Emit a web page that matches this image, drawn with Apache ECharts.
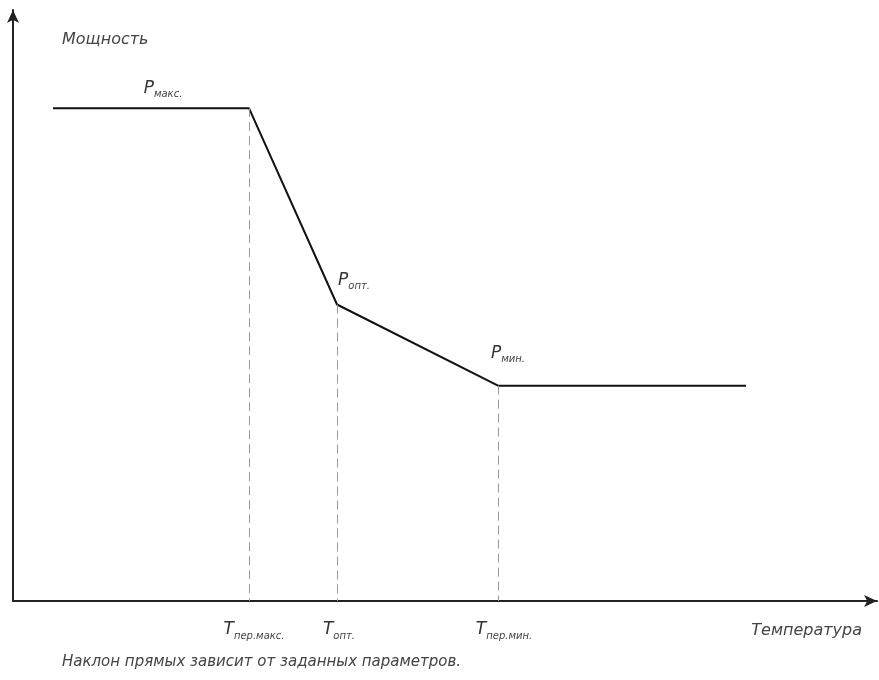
<!DOCTYPE html>
<html><head><meta charset="utf-8">
<script src="https://cdn.jsdelivr.net/npm/echarts@6/dist/echarts.min.js"></script>
<style>html,body{margin:0;padding:0;background:#fff}#c{width:879px;height:680px}</style>
</head><body><div id="c"></div>
<script>
// Temperature (arbitrary units) and power (arbitrary units)
const temps = [40, 236, 324, 485, 733];
const power = [492, 492, 296, 215, 215];
const pointLabels = ['', 'макс.', 'опт.', 'мин.', ''];
const tempMarks = [236, 324, 485];
const tempMarkLabels = ['пер.макс.', 'опт.', 'пер.мин.'];
const tempMarkPower = [492, 296, 215];
const xName = 'Температура';
const yName = 'Мощность';
const note = 'Наклон прямых зависит от заданных параметров.';

const FONT = '"DejaVu Sans", sans-serif';
const labelOffsets = [null, [-86, -4], [17, -8], [10, -16], null];
const markLabelOffsets = [[5, 0], [2, 0], [6, 0]];

const chart = echarts.init(document.getElementById('c'));
const lineData = temps.map((t, i) => {
  const d = { value: [t, power[i]] };
  if (pointLabels[i]) {
    d.label = {
      show: true, position: 'top', offset: labelOffsets[i],
      formatter: '{a|P}{b|' + pointLabels[i] + '}'
    };
  }
  return d;
});
const rich = {
  a: { fontSize: 17, fontStyle: 'italic', fontFamily: FONT, color: '#333' },
  b: { fontSize: 10, fontStyle: 'italic', fontFamily: FONT, color: '#444', padding: [12, 0, 0, 0] }
};
chart.setOption({
  animation: false,
  grid: { left: 13, right: 2, top: 10, bottom: 79 },
  xAxis: {
    type: 'value', min: 0, max: 864,
    axisLine: { show: true, lineStyle: { color: '#222', width: 2 }, symbol: ['none', 'arrow'], symbolSize: [9, 13] },
    axisTick: { show: false }, axisLabel: { show: false }, splitLine: { show: false }
  },
  yAxis: {
    type: 'value', min: 0, max: 590,
    axisLine: { show: true, lineStyle: { color: '#222', width: 2 }, symbol: ['none', 'arrow'], symbolSize: [9, 13] },
    axisTick: { show: false }, axisLabel: { show: false }, splitLine: { show: false }
  },
  series: [{
    type: 'line',
    data: lineData,
    showSymbol: true,
    symbol: 'circle',
    symbolSize: 0,
    lineStyle: { color: '#111', width: 2 },
    itemStyle: { color: '#111' },
    label: { rich: rich },
    markLine: {
      silent: true, symbol: ['none', 'none'],
      lineStyle: { color: '#999', type: [9, 5], width: 1 },
      label: { show: true, position: 'end', distance: 18, rich: rich },
      data: tempMarks.map((t, i) => [
        { coord: [t, tempMarkPower[i]] },
        { coord: [t, 0], label: { offset: markLabelOffsets[i], formatter: '{a|T}{b|' + tempMarkLabels[i] + '}' } }
      ])
    }
  }],
  graphic: [
    { type: 'text', left: 62, top: 32, style: { text: yName, font: 'italic 16px ' + FONT, fill: '#444' } },
    { type: 'text', right: 17, top: 623, style: { text: xName, font: 'italic 16px ' + FONT, fill: '#444' } },
    { type: 'text', left: 62, top: 655, style: { text: note, font: 'italic 15px ' + FONT, fill: '#444' } }
  ]
});
</script></body></html>
